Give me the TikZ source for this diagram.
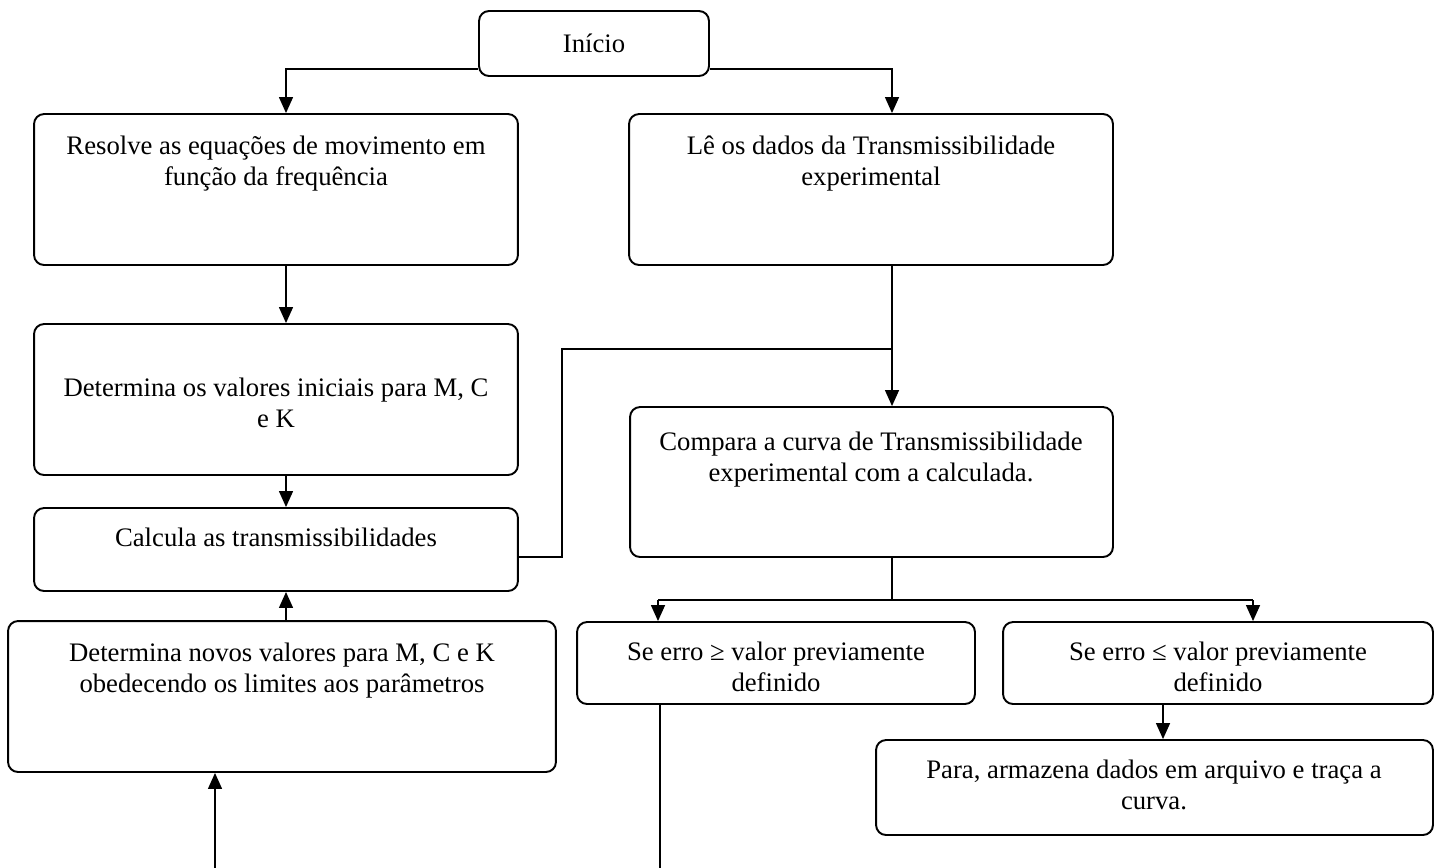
\documentclass[tikz,border=0pt]{standalone}
\usepackage{fontspec}
\setmainfont{Liberation Serif}
\usetikzlibrary{arrows.meta}
\newcommand\myst{\rule{0pt}{14pt}}
\begin{document}
\begin{tikzpicture}[x=0.02cm,y=-0.02cm,
  box/.style={draw, rounded corners=0.2cm, line width=1.1pt, inner sep=0pt, font=\fontsize{15.2pt}{17.6pt}\selectfont},
  txt/.style={anchor=north, align=center, inner sep=0pt, font=\fontsize{15.2pt}{17.6pt}\selectfont},
  conn/.style={line width=0.8pt},
  thinconn/.style={line width=0.6pt},
  barline/.style={line width=1.4pt},
  arr/.style={conn, -{Triangle[width=0.28cm,length=0.32cm]}},
]
\useasboundingbox (0,0) rectangle (1435,867);

% boxes
\node[box, minimum width=4.6cm,   minimum height=1.3cm]  (S) at (594,43.5)   {Início};
\node[box, minimum width=9.68cm,  minimum height=3.02cm] (A) at (276,189.5)  {};
\node[box, minimum width=9.68cm,  minimum height=3.02cm] (B) at (871,189.5)  {};
\node[box, minimum width=9.68cm,  minimum height=3.02cm] (C) at (276,399.5)  {};
\node[box, minimum width=9.68cm,  minimum height=1.66cm] (D) at (276,549.5)  {};
\node[box, minimum width=9.66cm,  minimum height=3.0cm]  (E) at (871.5,482)  {};
\node[box, minimum width=7.96cm,  minimum height=1.64cm] (F) at (776,663)    {};
\node[box, minimum width=8.6cm,   minimum height=1.64cm] (G) at (1218,663)   {};
\node[box, minimum width=11.14cm, minimum height=1.9cm]  (H) at (1154.5,787.5) {};
\node[box, minimum width=10.96cm, minimum height=3.02cm] (I) at (282,696.5)  {};

% texts
\node[txt] (At) at (276,130) {\myst Resolve as equações de movimento em\\função da frequência};
\node[txt] (Bt) at (871,130) {\myst Lê os dados da Transmissibilidade\\experimental};
\node[txt] (Ct) at (276,372) {\myst Determina os valores iniciais para M, C\\e K};
\node[txt] (Dt) at (276,522) {\myst Calcula as transmissibilidades};
\node[txt] (Et) at (871,426) {\myst Compara a curva de Transmissibilidade\\experimental com a calculada.};
\node[txt] (Ft) at (776,636) {\myst Se erro ≥ valor previamente\\definido};
\node[txt] (Gt) at (1218,636) {\myst Se erro ≤ valor previamente\\definido};
\node[txt] (Ht) at (1154,754) {\myst Para, armazena dados em arquivo e traça a\\curva.};
\node[txt] (It) at (282,637) {\myst Determina novos valores para M, C e K\\obedecendo os limites aos parâmetros};

% helper coordinates
\coordinate (colL) at (286,0);
\coordinate (colR) at (892,0);
\coordinate (colH) at (1163,0);
\coordinate (yS) at (0,69);
\coordinate (kink) at (562,349);
\coordinate (join) at (892,349);
\coordinate (barM) at (892,600);
\coordinate (barL) at (658,600);
\coordinate (barR) at (1253,600);
\coordinate (endF) at (660,870);
\coordinate (startI) at (215,870);
\coordinate (colI) at (215,0);

% connectors
\draw[arr] (S.west |- yS) -| (A.north -| colL);
\draw[arr] (S.east |- yS) -| (B.north -| colR);
\draw[arr] (A.south -| colL) -- (C.north -| colL);
\draw[arr] (C.south -| colL) -- (D.north -| colL);
\draw[arr] (I.north -| colL) -- (D.south -| colL);
\draw[arr] (B.south -| colR) -- (E.north -| colR);
\draw[thinconn] ([yshift=-0.15cm]D.east) -| (kink) -- (join);
\draw[conn] (E.south -| colR) -- (barM);
\draw[barline] (barL) -- (barR);
\draw[arr] (barL) -- (F.north -| barL);
\draw[arr] (barR) -- (G.north -| barR);
\draw[arr] (G.south -| colH) -- (H.north -| colH);
\draw[conn] (F.south -| endF) -- (endF);
\draw[arr] (startI) -- (I.south -| colI);
\end{tikzpicture}
\end{document}
